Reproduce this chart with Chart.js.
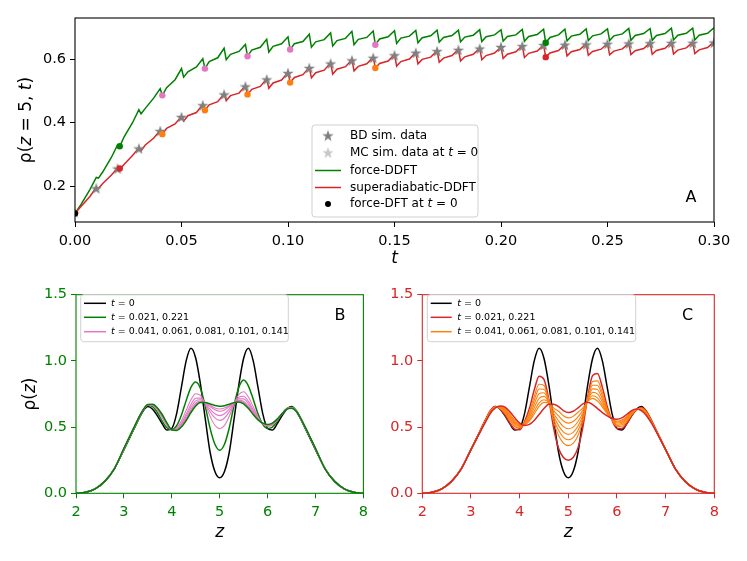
<!DOCTYPE html>
<html>
<head>
<meta charset="utf-8">
<script src="https://cdn.jsdelivr.net/npm/chart.js@4.4.0/dist/chart.umd.min.js"></script>
<style>
  body { margin: 0; background: #fff; }
  #wrap { position: relative; width: 747px; height: 561px; }
  canvas { position: absolute; }
</style>
</head>
<body>
<div id="wrap">
  <canvas id="panelA" width="747" height="282" style="left:0;top:0"></canvas>
  <canvas id="panelB" width="373" height="279" style="left:0;top:282px"></canvas>
  <canvas id="panelC" width="374" height="279" style="left:373px;top:282px"></canvas>
</div>
<script>
// ---- panel A: rho(z=5,t) ----
const tGrid = [0,0.003,0.007,
  0.010,0.011,0.013,0.017, 0.020,0.021,0.023,0.027, 0.030,0.031,0.033,0.037,
  0.040,0.041,0.043,0.047, 0.050,0.051,0.053,0.057, 0.060,0.061,0.063,0.067,
  0.070,0.071,0.073,0.077, 0.080,0.081,0.083,0.087, 0.090,0.091,0.093,0.097,
  0.100,0.101,0.103,0.107, 0.110,0.111,0.113,0.117, 0.120,0.121,0.123,0.127,
  0.130,0.131,0.133,0.137, 0.140,0.141,0.143,0.147, 0.150,0.151,0.153,0.157,
  0.160,0.161,0.163,0.167, 0.170,0.171,0.173,0.177, 0.180,0.181,0.183,0.187,
  0.190,0.191,0.193,0.197, 0.200,0.201,0.203,0.207, 0.210,0.211,0.213,0.217,
  0.220,0.221,0.223,0.227, 0.230,0.231,0.233,0.237, 0.240,0.241,0.243,0.247,
  0.250,0.251,0.253,0.257, 0.260,0.261,0.263,0.267, 0.270,0.271,0.273,0.277,
  0.280,0.281,0.283,0.287, 0.290,0.291,0.293,0.297, 0.300];

const rhoForce = [0.115,0.145,0.190,
  0.228,0.226,0.245,0.290, 0.330,0.325,0.355,0.400, 0.441,0.428,0.445,0.478,
  0.507,0.486,0.510,0.535, 0.570,0.543,0.560,0.575, 0.601,0.570,0.592,0.604,
  0.634,0.598,0.615,0.624, 0.646,0.609,0.628,0.637, 0.662,0.622,0.640,0.648,
  0.670,0.630,0.648,0.655, 0.678,0.637,0.654,0.661, 0.682,0.641,0.658,0.665,
  0.687,0.645,0.662,0.668, 0.688,0.645,0.663,0.670, 0.689,0.649,0.666,0.672,
  0.690,0.651,0.667,0.673, 0.691,0.653,0.668,0.674, 0.691,0.654,0.669,0.675,
  0.692,0.655,0.670,0.676, 0.692,0.656,0.671,0.676, 0.693,0.656,0.671,0.677,
  0.694,0.651,0.668,0.676, 0.694,0.657,0.672,0.678, 0.695,0.658,0.673,0.679,
  0.695,0.658,0.673,0.679, 0.696,0.659,0.674,0.680, 0.696,0.659,0.674,0.680,
  0.697,0.660,0.675,0.681, 0.697,0.660,0.675,0.681, 0.698];

const rhoSuper = [0.115,0.138,0.168,
  0.197,0.193,0.209,0.235, 0.258,0.253,0.269,0.297, 0.321,0.312,0.330,0.352,
  0.376,0.364,0.382,0.396, 0.420,0.405,0.422,0.432, 0.457,0.439,0.456,0.466,
  0.491,0.469,0.485,0.493, 0.516,0.489,0.505,0.514, 0.538,0.508,0.525,0.534,
  0.558,0.526,0.542,0.551, 0.574,0.541,0.557,0.565, 0.588,0.553,0.568,0.576,
  0.598,0.563,0.577,0.585, 0.606,0.572,0.586,0.594, 0.614,0.578,0.592,0.600,
  0.621,0.585,0.599,0.606, 0.626,0.590,0.603,0.611, 0.630,0.594,0.607,0.615,
  0.634,0.598,0.611,0.619, 0.638,0.602,0.615,0.623, 0.642,0.605,0.618,0.625,
  0.644,0.606,0.619,0.627, 0.646,0.610,0.623,0.630, 0.648,0.612,0.624,0.631,
  0.649,0.613,0.625,0.632, 0.650,0.614,0.626,0.633, 0.651,0.615,0.627,0.634,
  0.652,0.616,0.628,0.635, 0.653,0.617,0.629,0.636, 0.654];

const bdT = [0.01,0.02,0.03,0.04,0.05,0.06,0.07,0.08,0.09,0.10,0.11,0.12,0.13,0.14,0.15,
  0.16,0.17,0.18,0.19,0.20,0.21,0.22,0.23,0.24,0.25,0.26,0.27,0.28,0.29,0.30];
const bdRho = [0.194,0.256,0.319,0.374,0.418,0.455,0.489,0.514,0.536,0.556,0.572,0.586,0.596,0.604,0.612,
  0.620,0.625,0.629,0.633,0.638,0.641,0.644,0.645,0.646,0.648,0.649,0.650,0.651,0.651,0.652];
const mcT = [0];
const mcRho = [0.117];
const dftT = [0];
const dftRho = [0.115];

const snapT1 = [0.021, 0.221];
const forceSnap1 = [0.326, 0.651];
const superSnap1 = [0.256, 0.606];
const snapT2 = [0.041, 0.061, 0.081, 0.101, 0.141];
const forceSnap2 = [0.486, 0.570, 0.609, 0.630, 0.645];
const superSnap2 = [0.364, 0.439, 0.489, 0.526, 0.572];

const tTicks = [0, 0.05, 0.10, 0.15, 0.20, 0.25, 0.30];
const rhoTicksA = [0.2, 0.4, 0.6];

// ---- panels B and C: rho(z) profiles ----
const zGrid = [2.0,2.2,2.4,2.6,2.8,
  3.0,3.1,3.2,3.3,3.4,3.5,3.6,3.7,3.8,3.9,4.0,4.1,4.2,4.3,4.4,4.5,4.6,4.7,4.8,4.9,
  5.0,5.1,5.2,5.3,5.4,5.5,5.6,5.7,5.8,5.9,6.0,6.1,6.2,6.3,6.4,6.5,6.6,6.7,6.8,6.9,7.0,
  7.2,7.4,7.6,7.8,8.0];

const profT0 = [0.001,0.008,0.034,0.090,0.185,
  0.330,0.405,0.480,0.555,0.620,0.655,0.635,0.585,0.525,0.478,0.490,0.600,0.800,1.000,1.095,1.020,0.820,0.560,0.310,0.165,
  0.118,0.165,0.310,0.560,0.820,1.020,1.095,1.000,0.800,0.600,0.490,0.478,0.525,0.585,0.635,0.655,0.620,0.555,0.480,0.405,0.330,
  0.185,0.090,0.034,0.008,0.001];

const forceFirst = [0.001,0.008,0.034,0.090,0.185,
  0.330,0.405,0.480,0.555,0.625,0.665,0.655,0.610,0.545,0.495,0.480,0.510,0.590,0.700,0.800,0.840,0.790,0.655,0.490,0.370,
  0.325,0.370,0.495,0.665,0.800,0.855,0.810,0.710,0.600,0.520,0.490,0.500,0.545,0.600,0.640,0.652,0.625,0.560,0.485,0.410,0.333,
  0.185,0.090,0.034,0.008,0.001];
const forceLast = [0.001,0.008,0.034,0.090,0.185,
  0.340,0.415,0.490,0.565,0.630,0.670,0.672,0.645,0.595,0.530,0.480,0.475,0.500,0.550,0.610,0.660,0.685,0.686,0.675,0.663,
  0.657,0.662,0.672,0.685,0.690,0.675,0.640,0.595,0.555,0.530,0.520,0.530,0.560,0.600,0.635,0.643,0.620,0.560,0.490,0.415,0.340,
  0.185,0.090,0.034,0.008,0.001];
const forceMid1 = [0.001,0.008,0.034,0.090,0.185,
  0.335,0.410,0.485,0.560,0.627,0.667,0.663,0.627,0.570,0.512,0.480,0.493,0.546,0.627,0.707,0.752,0.739,0.670,0.581,0.514,
  0.488,0.513,0.582,0.675,0.746,0.767,0.727,0.654,0.578,0.525,0.505,0.515,0.552,0.600,0.638,0.648,0.623,0.560,0.487,0.412,0.336,
  0.185,0.090,0.034,0.008,0.001];
const forceMid2 = [0.001,0.008,0.034,0.090,0.185,
  0.337,0.412,0.487,0.562,0.628,0.668,0.667,0.634,0.579,0.519,0.480,0.486,0.529,0.598,0.671,0.718,0.719,0.676,0.616,0.569,
  0.551,0.569,0.615,0.679,0.725,0.733,0.694,0.632,0.569,0.527,0.510,0.520,0.555,0.600,0.637,0.646,0.622,0.560,0.488,0.413,0.338,
  0.185,0.090,0.034,0.008,0.001];
const forceMid3 = [0.001,0.008,0.034,0.090,0.185,
  0.338,0.413,0.488,0.563,0.629,0.669,0.668,0.638,0.585,0.523,0.480,0.482,0.519,0.582,0.650,0.698,0.707,0.679,0.636,0.601,
  0.587,0.601,0.635,0.681,0.713,0.713,0.676,0.619,0.564,0.528,0.514,0.524,0.557,0.600,0.636,0.645,0.621,0.560,0.489,0.414,0.339,
  0.185,0.090,0.034,0.008,0.001];
const forceMid4 = [0.001,0.008,0.034,0.090,0.185,
  0.339,0.414,0.489,0.564,0.629,0.669,0.670,0.641,0.590,0.526,0.480,0.479,0.510,0.567,0.631,0.680,0.697,0.683,0.655,0.631,
  0.620,0.630,0.653,0.683,0.702,0.695,0.659,0.608,0.560,0.529,0.517,0.527,0.558,0.600,0.636,0.644,0.621,0.560,0.489,0.414,0.339,
  0.185,0.090,0.034,0.008,0.001];
const forceMid5 = [0.001,0.008,0.034,0.090,0.185,
  0.339,0.414,0.489,0.564,0.630,0.670,0.671,0.643,0.592,0.528,0.480,0.477,0.505,0.559,0.621,0.671,0.691,0.684,0.664,0.645,
  0.637,0.644,0.661,0.684,0.697,0.686,0.650,0.602,0.558,0.529,0.518,0.528,0.559,0.600,0.635,0.644,0.620,0.560,0.490,0.415,0.340,
  0.185,0.090,0.034,0.008,0.001];

const superFirst = [0.001,0.008,0.034,0.090,0.185,
  0.330,0.405,0.480,0.555,0.625,0.655,0.635,0.590,0.530,0.485,0.480,0.540,0.640,0.780,0.885,0.860,0.710,0.490,0.340,0.270,
  0.250,0.270,0.345,0.500,0.730,0.890,0.905,0.800,0.655,0.550,0.490,0.490,0.525,0.585,0.630,0.648,0.622,0.556,0.481,0.406,0.331,
  0.185,0.090,0.034,0.008,0.001];
const superLast = [0.001,0.008,0.034,0.090,0.185,
  0.330,0.400,0.470,0.540,0.605,0.645,0.660,0.650,0.615,0.570,0.530,0.512,0.520,0.550,0.595,0.640,0.672,0.673,0.655,0.625,
  0.610,0.620,0.645,0.675,0.687,0.670,0.640,0.610,0.585,0.565,0.560,0.570,0.595,0.625,0.637,0.625,0.590,0.535,0.470,0.400,0.330,
  0.185,0.090,0.034,0.008,0.001];
const superMid1 = [0.001,0.008,0.034,0.090,0.185,
  0.330,0.404,0.478,0.552,0.621,0.653,0.640,0.603,0.548,0.503,0.491,0.534,0.615,0.732,0.824,0.814,0.702,0.537,0.436,0.379,
  0.360,0.377,0.437,0.545,0.721,0.844,0.849,0.760,0.640,0.553,0.505,0.507,0.540,0.593,0.631,0.643,0.615,0.552,0.479,0.405,0.331,
  0.185,0.090,0.034,0.008,0.001];
const superMid2 = [0.001,0.008,0.034,0.090,0.185,
  0.330,0.403,0.477,0.550,0.618,0.652,0.643,0.610,0.558,0.513,0.497,0.531,0.600,0.703,0.788,0.786,0.697,0.560,0.476,0.423,
  0.405,0.421,0.474,0.567,0.716,0.816,0.816,0.736,0.632,0.555,0.513,0.517,0.548,0.598,0.632,0.640,0.611,0.549,0.477,0.404,0.331,
  0.185,0.090,0.034,0.008,0.001];
const superMid3 = [0.001,0.008,0.034,0.090,0.185,
  0.330,0.403,0.475,0.548,0.616,0.650,0.647,0.618,0.569,0.524,0.503,0.527,0.585,0.674,0.752,0.759,0.693,0.582,0.511,0.462,
  0.445,0.460,0.508,0.588,0.710,0.789,0.783,0.713,0.623,0.557,0.522,0.527,0.557,0.603,0.633,0.637,0.607,0.546,0.476,0.403,0.331,
  0.185,0.090,0.034,0.008,0.001];
const superMid4 = [0.001,0.008,0.034,0.090,0.185,
  0.330,0.402,0.474,0.546,0.613,0.649,0.650,0.625,0.579,0.534,0.509,0.524,0.570,0.647,0.717,0.732,0.688,0.603,0.547,0.504,
  0.487,0.500,0.542,0.608,0.705,0.762,0.751,0.690,0.614,0.559,0.531,0.536,0.566,0.608,0.634,0.635,0.603,0.544,0.475,0.403,0.330,
  0.185,0.090,0.034,0.008,0.001];
const superMid5 = [0.001,0.008,0.034,0.090,0.185,
  0.330,0.402,0.473,0.545,0.611,0.648,0.652,0.632,0.589,0.544,0.515,0.521,0.557,0.620,0.683,0.707,0.684,0.625,0.585,0.546,
  0.530,0.542,0.578,0.629,0.700,0.737,0.721,0.668,0.606,0.560,0.539,0.546,0.574,0.613,0.635,0.632,0.600,0.541,0.473,0.402,0.330,
  0.185,0.090,0.034,0.008,0.001];
const superMid6 = [0.001,0.008,0.034,0.090,0.185,
  0.330,0.401,0.472,0.543,0.609,0.647,0.655,0.637,0.597,0.552,0.519,0.518,0.546,0.599,0.657,0.687,0.680,0.643,0.620,0.586,
  0.570,0.581,0.612,0.646,0.696,0.717,0.697,0.651,0.600,0.562,0.545,0.553,0.580,0.616,0.635,0.630,0.597,0.540,0.472,0.401,0.330,
  0.185,0.090,0.034,0.008,0.001];

const zTicks = [2, 3, 4, 5, 6, 7, 8];
const rhoTicksBC = [0, 0.5, 1.0, 1.5];

const GREEN = '#008000', RED = '#d62728', PINK = '#e377c2', ORANGE = '#ff7f0e';
const FONT = '"DejaVu Sans", sans-serif';
Chart.defaults.font.family = FONT;

const pts = (xs, ys) => xs.map((x, i) => ({ x: x, y: ys[i] }));

function starMarker(color, r) {
  const c = document.createElement('canvas');
  const s = Math.ceil(2 * r + 2);
  c.width = c.height = s;
  const g = c.getContext('2d');
  g.beginPath();
  for (let i = 0; i < 10; i++) {
    const a = -Math.PI / 2 + i * Math.PI / 5;
    const rr = i % 2 ? r * 0.4 : r;
    g.lineTo(s / 2 + rr * Math.cos(a), s / 2 + rr * Math.sin(a) + r * 0.1);
  }
  g.closePath();
  g.fillStyle = color;
  g.fill();
  return c;
}
const starGrey = starMarker('#808080', 6);
const starLight = starMarker('#c8c8c8', 6);

// text made of upright / italic pieces (math style labels)
function drawRuns(ctx, parts, cx, cy, size, rot, align) {
  ctx.save();
  ctx.translate(cx, cy);
  ctx.rotate(rot || 0);
  ctx.textBaseline = 'middle';
  ctx.textAlign = 'left';
  let total = 0;
  parts.forEach(p => {
    ctx.font = (p[1] ? 'italic ' : '') + size + 'px ' + FONT;
    total += ctx.measureText(p[0]).width;
  });
  let x = align === 'left' ? 0 : -total / 2;
  parts.forEach(p => {
    ctx.font = (p[1] ? 'italic ' : '') + size + 'px ' + FONT;
    ctx.fillStyle = '#000';
    ctx.fillText(p[0], x, 0);
    x += ctx.measureText(p[0]).width;
  });
  ctx.restore();
}

const deco = {
  id: 'deco',
  afterDraw(chart, args, o) {
    const ctx = chart.ctx, a = chart.chartArea;
    ctx.save();
    ctx.strokeStyle = o.spine;
    ctx.lineWidth = 1.1;
    ctx.strokeRect(a.left, a.top, a.right - a.left, a.bottom - a.top);
    drawRuns(ctx, o.xTitle, (a.left + a.right) / 2, o.xTitleY, 17, 0);
    if (o.yTitle) drawRuns(ctx, o.yTitle, o.yTitleX, (a.top + a.bottom) / 2, 17, -Math.PI / 2);

    const L = o.legend;
    ctx.beginPath();
    ctx.roundRect(L.x, L.y, L.w, L.h, 3);
    ctx.fillStyle = 'rgba(255,255,255,0.85)';
    ctx.fill();
    ctx.strokeStyle = '#d0d0d0';
    ctx.lineWidth = 1;
    ctx.stroke();
    L.rows.forEach(r => {
      if (r.kind === 'line') {
        ctx.beginPath();
        ctx.moveTo(L.x0, r.y);
        ctx.lineTo(L.x1, r.y);
        ctx.strokeStyle = r.color;
        ctx.lineWidth = r.w || 1.5;
        ctx.stroke();
      } else if (r.kind === 'dot') {
        ctx.beginPath();
        ctx.arc((L.x0 + L.x1) / 2, r.y, 3, 0, Math.PI * 2);
        ctx.fillStyle = r.color;
        ctx.fill();
      } else {
        ctx.drawImage(r.img, (L.x0 + L.x1) / 2 - r.img.width / 2, r.y - r.img.height / 2);
      }
      drawRuns(ctx, r.text, L.tx, r.y, L.size, 0, 'left');
    });

    ctx.fillStyle = '#000';
    ctx.font = '16px ' + FONT;
    ctx.textAlign = 'center';
    ctx.textBaseline = 'middle';
    ctx.fillText(o.letter[0], o.letter[1], o.letter[2]);
    ctx.restore();
  }
};

function axisX(min, max, ticks, height, color, fmt, pad) {
  return {
    type: 'linear', min: min, max: max,
    afterBuildTicks: s => { s.ticks = ticks.map(v => ({ value: v })); },
    afterFit: s => { s.height = height; },
    ticks: { color: color, font: { size: 14.5 }, padding: pad, maxRotation: 0, callback: v => v.toFixed(fmt) },
    grid: { drawOnChartArea: false, drawTicks: true, tickLength: 5, tickColor: color },
    border: { display: false }
  };
}
function axisY(min, max, ticks, width, color) {
  return {
    type: 'linear', min: min, max: max,
    afterBuildTicks: s => { s.ticks = ticks.map(v => ({ value: v })); },
    afterFit: s => { s.width = width; },
    ticks: { color: color, font: { size: 14.5 }, padding: 4, callback: v => v.toFixed(1) },
    grid: { drawOnChartArea: false, drawTicks: true, tickLength: 5, tickColor: color },
    border: { display: false }
  };
}

// ---------- panel A ----------
new Chart(document.getElementById('panelA'), {
  type: 'line',
  data: {
    datasets: [
      { data: pts(dftT, dftRho), showLine: false, pointRadius: 3.2, pointBackgroundColor: '#000', pointBorderWidth: 0 },
      { data: pts(snapT1, forceSnap1), showLine: false, pointRadius: 3.2, pointBackgroundColor: GREEN, pointBorderWidth: 0 },
      { data: pts(snapT1, superSnap1), showLine: false, pointRadius: 3.2, pointBackgroundColor: RED, pointBorderWidth: 0 },
      { data: pts(snapT2, forceSnap2), showLine: false, pointRadius: 3.2, pointBackgroundColor: PINK, pointBorderWidth: 0 },
      { data: pts(snapT2, superSnap2), showLine: false, pointRadius: 3.2, pointBackgroundColor: ORANGE, pointBorderWidth: 0 },
      { data: pts(bdT, bdRho), showLine: false, pointRadius: 5, pointStyle: starGrey },
      { data: pts(mcT, mcRho), showLine: false, pointRadius: 5, pointStyle: starLight },
      { data: pts(tGrid, rhoSuper), borderColor: RED, borderWidth: 1.5, pointRadius: 0, tension: 0 },
      { data: pts(tGrid, rhoForce), borderColor: GREEN, borderWidth: 1.5, pointRadius: 0, tension: 0 }
    ]
  },
  options: {
    responsive: false, animation: false,
    layout: { padding: { left: 0, top: 18, right: 33, bottom: 0 } },
    plugins: {
      legend: { display: false }, tooltip: { enabled: false },
      deco: {
        spine: '#000',
        xTitle: [['t', true]], xTitleY: 259,
        yTitle: [['ρ(', false], ['z', true], [' = 5, ', false], ['t', true], [')', false]], yTitleX: 27,
        letter: ['A', 691, 198],
        legend: {
          x: 312, y: 125, w: 166, h: 92, x0: 315, x1: 341, tx: 350, size: 12,
          rows: [
            { kind: 'img', img: starGrey, y: 135.5, text: [['BD sim. data', false]] },
            { kind: 'img', img: starLight, y: 152.5, text: [['MC sim. data at ', false], ['t', true], [' = 0', false]] },
            { kind: 'line', color: GREEN, y: 170.5, text: [['force-DDFT', false]] },
            { kind: 'line', color: RED, y: 187.5, text: [['superadiabatic-DDFT', false]] },
            { kind: 'dot', color: '#000', y: 204, text: [['force-DFT at ', false], ['t', true], [' = 0', false]] }
          ]
        }
      }
    },
    scales: {
      x: axisX(0, 0.3, tTicks, 60, '#000', 2, 6),
      y: axisY(0.088, 0.729, rhoTicksA, 75, '#000')
    }
  },
  plugins: [deco]
});

// ---------- panels B and C ----------
function prof(ys, color, w) {
  return { data: pts(zGrid, ys), borderColor: color, borderWidth: w, pointRadius: 0, cubicInterpolationMode: 'monotone' };
}
function profileChart(id, main, mids, midColor, mainColor, yWidth, padRight, letter, legendBox, withYTitle) {
  const ds = [prof(main[1], mainColor, 1.5)];
  mids.forEach(m => ds.push(prof(m, midColor, 1.1)));
  ds.push(prof(main[0], mainColor, 1.5));
  ds.push(prof(profT0, '#000', 1.5));
  new Chart(document.getElementById(id), {
    type: 'line',
    data: { datasets: ds },
    options: {
      responsive: false, animation: false,
      layout: { padding: { left: 0, top: 10, right: padRight, bottom: 0 } },
      plugins: {
        legend: { display: false }, tooltip: { enabled: false },
        deco: {
          spine: mainColor,
          xTitle: [['z', true]], xTitleY: 251,
          yTitle: withYTitle ? [['ρ(', false], ['z', true], [')', false]] : null, yTitleX: 31,
          letter: letter,
          legend: Object.assign({ size: 9.5, rows: [
            { kind: 'line', color: '#000', y: 21.3, text: [['t', true], [' = 0', false]] },
            { kind: 'line', color: mainColor, y: 35.3, text: [['t', true], [' = 0.021, 0.221', false]] },
            { kind: 'line', color: midColor, y: 49.7, text: [['t', true], [' = 0.041, 0.061, 0.081, 0.101, 0.141', false]] }
          ] }, legendBox)
        }
      },
      scales: {
        x: axisX(2, 8, zTicks, 67.7, mainColor, 0, 5),
        y: axisY(0, 1.5, rhoTicksBC, yWidth, mainColor)
      }
    },
    plugins: [deco]
  });
}

profileChart('panelB', [forceFirst, forceLast], [forceMid1, forceMid2, forceMid3, forceMid4, forceMid5],
  PINK, GREEN, 76, 5.3, ['B', 340, 34],
  { x: 80.7, y: 12.7, w: 207.6, h: 47, x0: 84, x1: 106, tx: 111 }, true);

profileChart('panelC', [superFirst, superLast], [superMid1, superMid2, superMid3, superMid4, superMid5, superMid6],
  ORANGE, RED, 49.3, 32.7, ['C', 314.5, 34],
  { x: 54.3, y: 12.7, w: 208.4, h: 47, x0: 57.7, x1: 78.7, tx: 84.3 }, false);
</script>
</body>
</html>
